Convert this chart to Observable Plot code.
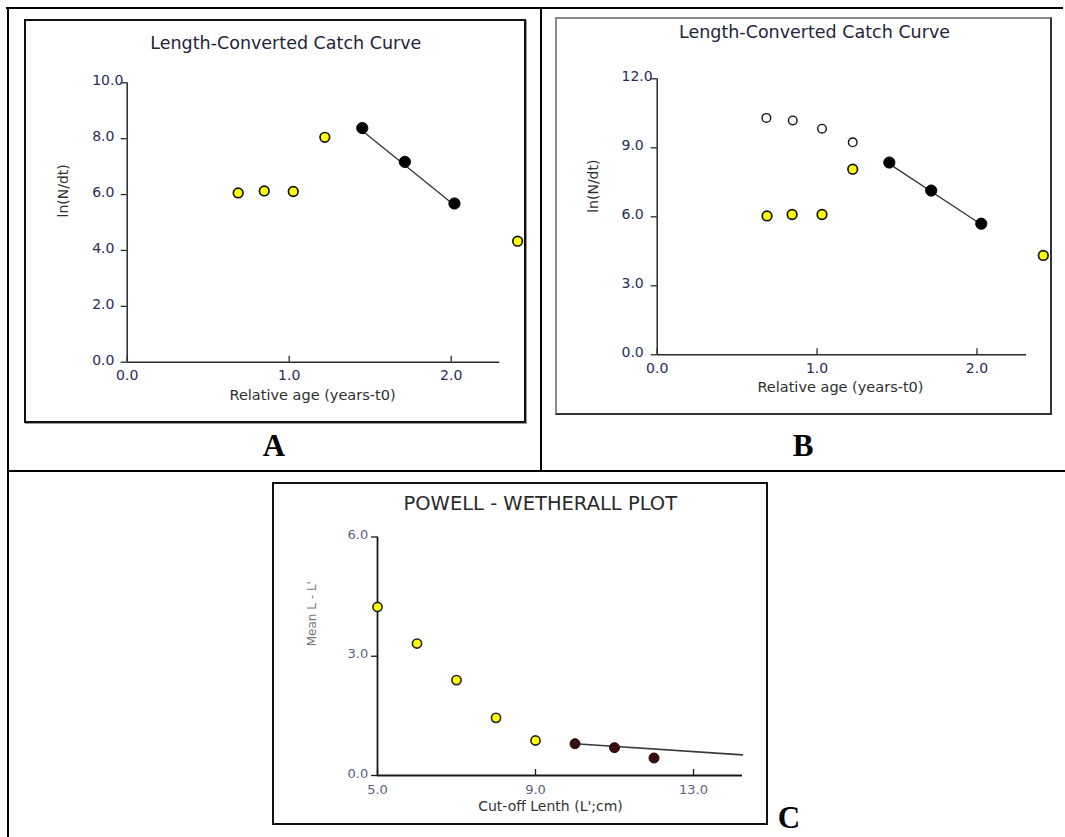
<!DOCTYPE html>
<html><head><meta charset="utf-8">
<script src="https://cdn.jsdelivr.net/npm/d3@7"></script>
<script src="https://cdn.jsdelivr.net/npm/@observablehq/plot@0.6"></script>
<style>
body{margin:0;background:#fff;}
#page{position:relative;width:1065px;height:837px;overflow:hidden;background:#fff;font-family:"DejaVu Sans",sans-serif;}
.line{position:absolute;background:#000;}
.frame{position:absolute;box-sizing:border-box;}
.slot{position:absolute;}
.title{position:absolute;transform:translate(-50%,-50%);white-space:nowrap;line-height:1;font-family:"DejaVu Sans",sans-serif;}
.letter{position:absolute;transform:translate(-50%,-50%);font-family:"Liberation Serif","Times New Roman",serif;font-weight:bold;font-size:31px;line-height:1;color:#000;}
</style></head>
<body><div id="page">
<div class="line" style="left:6px;top:6.5px;width:1057px;height:2px"></div>
<div class="line" style="left:6.5px;top:6.5px;width:2px;height:831px"></div>
<div class="line" style="left:540px;top:6.5px;width:2px;height:465px"></div>
<div class="line" style="left:6.5px;top:470px;width:1059px;height:2px"></div>

<div class="frame" style="left:24px;top:19px;width:502px;height:404px;border:2px solid #111;box-shadow:1px 1px 0 #999"></div>
<div class="frame" style="left:555px;top:17px;width:497px;height:398px;border:2px solid #333;border-top-color:#8a8a8a;border-left-color:#8a8a8a"></div>
<div class="frame" style="left:272px;top:482px;width:496px;height:343px;border:2px solid #111"></div>

<div class="slot" id="pa" style="left:24px;top:19px"></div>
<div class="slot" id="pb" style="left:555px;top:17px"></div>
<div class="slot" id="pc" style="left:272px;top:482px"></div>

<div class="title" id="ta" style="left:285.8px;top:44.3px;font-size:17.5px;color:#23233a"></div>
<div class="title" id="tb" style="left:814.5px;top:33.3px;font-size:17.5px;color:#23233a"></div>
<div class="title" id="tc" style="left:540.3px;top:503.6px;font-size:19.5px;color:#2a2a2a"></div>

<div class="letter" style="left:274px;top:445px">A</div>
<div class="letter" style="left:803px;top:445px">B</div>
<div class="letter" style="left:789px;top:817px">C</div>
</div>
<script>
// ---- Titles and labels
const titleA = "Length-Converted Catch Curve";
const titleB = "Length-Converted Catch Curve";
const titleC = "POWELL - WETHERALL PLOT";
const xLabelAB = "Relative age (years-t0)";
const yLabelAB = "ln(N/dt)";
const xLabelC = "Cut-off Lenth (L';cm)";
const yLabelC = "Mean L - L'";

// ---- Tick values
const xTicksAB = [0, 1, 2];
const yTicksA = [0, 2, 4, 6, 8, 10];
const yTicksB = [0, 3, 6, 9, 12];
const xTicksC = [5, 9, 13];
const yTicksC = [0, 3, 6];

// ---- Panel A data
const ageYellowA = [0.685, 0.846, 1.025, 1.22, 2.41];
const lnYellowA  = [6.06, 6.13, 6.11, 8.05, 4.33];
const ageBlackA  = [1.451, 1.714, 2.02];
const lnBlackA   = [8.38, 7.17, 5.68];
const fitAgeA    = [1.451, 2.02];
const fitLnA     = [8.28, 5.62];

// ---- Panel B data
const ageOpenB   = [0.683, 0.848, 1.031, 1.223];
const lnOpenB    = [10.30, 10.19, 9.83, 9.24];
const ageYellowB = [0.687, 0.844, 1.031, 1.223, 2.415];
const lnYellowB  = [6.04, 6.10, 6.10, 8.07, 4.32];
const ageBlackB  = [1.452, 1.714, 2.027];
const lnBlackB   = [8.36, 7.14, 5.70];
const fitAgeB    = [1.452, 2.02];
const fitLnB     = [8.30, 5.70];

// ---- Panel C data
const lenYellowC = [5, 6, 7, 8, 9];
const diffYellowC = [4.24, 3.32, 2.40, 1.45, 0.88];
const lenDarkC   = [10, 11, 12];
const diffDarkC  = [0.80, 0.70, 0.44];
const fitLenC    = [10, 14.24];
const fitDiffC   = [0.80, 0.52];

const rows = (xs, ys) => xs.map((x, i) => ({x, y: ys[i]}));
const fmt = d => d.toFixed(1);

document.getElementById("ta").textContent = titleA;
document.getElementById("tb").textContent = titleB;
document.getElementById("tc").textContent = titleC;

function catchPanel(cfg) {
  return Plot.plot({
    width: cfg.width, height: cfg.height,
    marginLeft: cfg.ml, marginRight: cfg.mr, marginTop: cfg.mt, marginBottom: cfg.mb,
    style: {background: "transparent", overflow: "visible", fontFamily: "DejaVu Sans, sans-serif"},
    x: {domain: cfg.xDomain, axis: null},
    y: {domain: cfg.yDomain, axis: null},
    marks: [
      // y tick marks (outward) and left-aligned y tick labels
      Plot.axisY({ticks: cfg.yTicks, tickFormat: () => "", tickSize: 6, stroke: cfg.axisStroke, strokeWidth: 1.3, label: null}),
      Plot.axisY({ticks: cfg.yTicks, tickFormat: fmt, tickSize: 0, tickPadding: 3, textAnchor: "start",
        dx: cfg.yTickDx, dy: -2, fontSize: cfg.tickFont, fill: cfg.tickFill, label: null}),
      // x tick marks (inward) and labels below
      Plot.axisX({ticks: cfg.xTicks, tickFormat: fmt, tickSize: 6, dy: -6, tickPadding: cfg.xTickPad,
        fontSize: cfg.tickFont, fill: cfg.tickFill, stroke: cfg.axisStroke, strokeWidth: 1.3, label: null}),
      Plot.ruleX([cfg.xDomain[0]], {stroke: cfg.axisStroke, strokeWidth: cfg.axisWidth}),
      Plot.ruleY([cfg.yDomain[0]], {stroke: cfg.axisStroke, strokeWidth: cfg.axisWidth}),
      Plot.text([cfg.xLabel], {frameAnchor: "bottom", dx: cfg.xlDx, dy: cfg.xlDy, fontSize: cfg.labFont, fill: cfg.labFill}),
      Plot.text([cfg.yLabel], {frameAnchor: "left", rotate: -90, dx: cfg.ylDx, dy: cfg.ylDy, fontSize: cfg.ylFont, fill: cfg.ylFill}),
      ...cfg.marks
    ]
  });
}

const plotA = catchPanel({
  width: 502, height: 404, ml: 102.7, mr: 26.7, mt: 63.3, mb: 61.3,
  xDomain: [0, 2.3], yDomain: [0, 10], xTicks: xTicksAB, yTicks: yTicksA,
  yTickDx: -32, xTickPad: 8, tickFont: 14, tickFill: "#2b2b58", axisStroke: "#2a2a2a", axisWidth: 1.5,
  xLabel: xLabelAB, yLabel: yLabelAB, xlDx: -1, xlDy: 37.5, ylDx: -63.4, ylDy: -5,
  labFont: 14.5, labFill: "#2e2e2e", ylFont: 14, ylFill: "#2e2e2e",
  marks: [
    Plot.line(rows(fitAgeA, fitLnA), {x: "x", y: "y", stroke: "#333", strokeWidth: 1.3}),
    Plot.dot(rows(ageYellowA, lnYellowA), {x: "x", y: "y", r: 4.8, fill: "#ffff00", stroke: "#111", strokeWidth: 1.7}),
    Plot.dot(rows(ageBlackA, lnBlackA), {x: "x", y: "y", r: 5.6, fill: "#000", stroke: "#000", strokeWidth: 1})
  ]
});
document.getElementById("pa").appendChild(plotA);

const plotB = catchPanel({
  width: 497, height: 398, ml: 101.7, mr: 26, mt: 61.3, mb: 60.7,
  xDomain: [0, 2.31], yDomain: [0, 12], xTicks: xTicksAB, yTicks: yTicksB,
  yTickDx: -32.7, xTickPad: 8, tickFont: 14, tickFill: "#2b2b58", axisStroke: "#2a2a2a", axisWidth: 1.5,
  xLabel: xLabelAB, yLabel: yLabelAB, xlDx: -1.4, xlDy: 37, ylDx: -63.4, ylDy: -4,
  labFont: 14.5, labFill: "#2e2e2e", ylFont: 14, ylFill: "#2e2e2e",
  marks: [
    Plot.line(rows(fitAgeB, fitLnB), {x: "x", y: "y", stroke: "#333", strokeWidth: 1.3}),
    Plot.dot(rows(ageOpenB, lnOpenB), {x: "x", y: "y", r: 4.3, fill: "#fff", stroke: "#111", strokeWidth: 1.4}),
    Plot.dot(rows(ageYellowB, lnYellowB), {x: "x", y: "y", r: 4.8, fill: "#ffff00", stroke: "#111", strokeWidth: 1.7}),
    Plot.dot(rows(ageBlackB, lnBlackB), {x: "x", y: "y", r: 5.6, fill: "#000", stroke: "#000", strokeWidth: 1})
  ]
});
document.getElementById("pb").appendChild(plotB);

const plotC = catchPanel({
  width: 496, height: 343, ml: 105, mr: 26, mt: 54.5, mb: 50,
  xDomain: [5, 14.24], yDomain: [0, 6], xTicks: xTicksC, yTicks: yTicksC,
  yTickDx: -27, xTickPad: 9, tickFont: 13, tickFill: "#5e5e7c", axisStroke: "#1a1a1a", axisWidth: 1.8,
  xLabel: xLabelC, yLabel: yLabelC, xlDx: -9.5, xlDy: 35.5, ylDx: -65, ylDy: -10,
  labFont: 14, labFill: "#333", ylFont: 12, ylFill: "#777",
  marks: [
    Plot.line(rows(fitLenC, fitDiffC), {x: "x", y: "y", stroke: "#3a3a3a", strokeWidth: 1.6}),
    Plot.dot(rows(lenYellowC, diffYellowC), {x: "x", y: "y", r: 4.6, fill: "#ffff00", stroke: "#222", strokeWidth: 1.6}),
    Plot.dot(rows(lenDarkC, diffDarkC), {x: "x", y: "y", r: 5, fill: "#3a0c0c", stroke: "#2a0808", strokeWidth: 1})
  ]
});
document.getElementById("pc").appendChild(plotC);
</script>
</body></html>
